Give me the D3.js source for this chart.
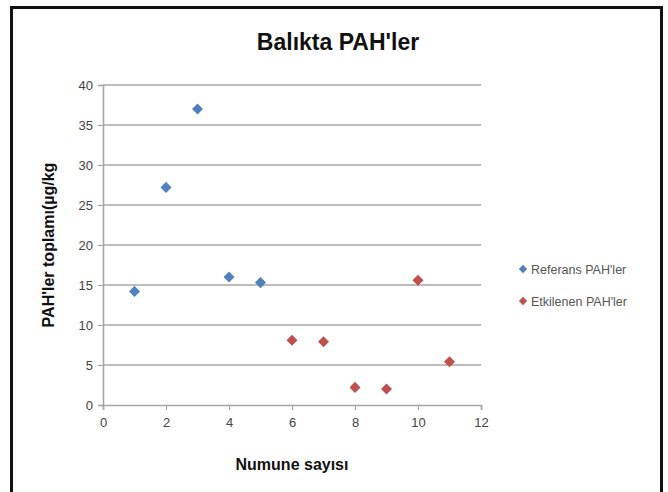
<!DOCTYPE html>
<html>
<head>
<meta charset="utf-8">
<script src="https://cdn.jsdelivr.net/npm/d3@7"></script>
<style>
  html, body { margin: 0; padding: 0; background: #fff; }
  svg { display: block; }
</style>
</head>
<body>
<svg id="chart" width="668" height="492"></svg>
<script>
// Sample numbers (x) and PAH totals (µg/kg) for each group
const referansX = [1, 2, 3, 4, 5];
const referansY = [14.2, 27.2, 37.0, 16.0, 15.3];
const etkilenenX = [6, 7, 8, 9, 10, 11];
const etkilenenY = [8.1, 7.9, 2.2, 2.0, 15.6, 5.4];
const xTicks = [0, 2, 4, 6, 8, 10, 12];
const yTicks = [0, 5, 10, 15, 20, 25, 30, 35, 40];
const seriesNames = ["Referans PAH'ler", "Etkilenen PAH'ler"];
const seriesColors = ["#4f81bd", "#c0504d"];

const svg = d3.select("#chart");
const font = "'Liberation Sans', Arial, sans-serif";

// outer frame (open at the bottom)
svg.append("path")
  .attr("d", "M11.5,500 V7.5 H661.5 V500")
  .attr("fill", "none").attr("stroke", "#111").attr("stroke-width", 3);

const x = d3.scaleLinear().domain([0, 12]).range([103, 481]);
const y = d3.scaleLinear().domain([0, 40]).range([405, 85]);

// horizontal gridlines
svg.append("g").selectAll("line").data(yTicks.filter(d => d > 0)).join("line")
  .attr("x1", x(0)).attr("x2", x(12))
  .attr("y1", d => y(d)).attr("y2", d => y(d))
  .attr("stroke", "#a6a6a6").attr("stroke-width", 1.6);

// y axis
const yAxis = svg.append("g").attr("transform", `translate(${x(0)},0)`)
  .call(d3.axisLeft(y).tickValues(yTicks).tickSize(5).tickPadding(5));
// x axis
const xAxis = svg.append("g").attr("transform", `translate(0,${y(0)})`)
  .call(d3.axisBottom(x).tickValues(xTicks).tickSize(5).tickPadding(8));

[yAxis, xAxis].forEach(a => {
  a.select(".domain").attr("stroke", "#a6a6a6").attr("stroke-width", 1.6);
  a.selectAll(".tick line").attr("stroke", "#a6a6a6").attr("stroke-width", 1.2);
  a.selectAll("text").attr("font-family", font).attr("font-size", 13)
    .attr("fill", "#444");
});

// diamond markers
const diamond = d3.symbol().type(d3.symbolDiamond2).size(78);
const groups = [
  { xs: referansX, ys: referansY, color: seriesColors[0] },
  { xs: etkilenenX, ys: etkilenenY, color: seriesColors[1] }
];
groups.forEach(g => {
  svg.append("g").selectAll("path").data(g.xs.map((v, i) => [v, g.ys[i]])).join("path")
    .attr("d", diamond)
    .attr("transform", d => `translate(${x(d[0])},${y(d[1])})`)
    .attr("fill", g.color);
});

// title
svg.append("text").attr("x", 338).attr("y", 50).attr("text-anchor", "middle")
  .attr("font-family", font).attr("font-weight", "bold").attr("font-size", 23)
  .attr("fill", "#111").text("Balıkta PAH'ler");

// axis titles
svg.append("text").attr("x", 292).attr("y", 470).attr("text-anchor", "middle")
  .attr("font-family", font).attr("font-weight", "bold").attr("font-size", 16)
  .attr("fill", "#111").text("Numune sayısı");
svg.append("text").attr("transform", "translate(54,245) rotate(-90)")
  .attr("text-anchor", "middle")
  .attr("font-family", font).attr("font-weight", "bold").attr("font-size", 16)
  .attr("fill", "#111").text("PAH'ler toplamı(µg/kg");

// legend
const legend = svg.append("g");
seriesNames.forEach((name, i) => {
  const ly = 269 + i * 32;
  legend.append("path").attr("d", d3.symbol().type(d3.symbolDiamond2).size(44))
    .attr("transform", `translate(523,${ly})`).attr("fill", seriesColors[i]);
  legend.append("text").attr("x", 531).attr("y", ly + 4.5)
    .attr("font-family", font).attr("font-size", 12.5).attr("fill", "#555")
    .text(name);
});
</script>
</body>
</html>
